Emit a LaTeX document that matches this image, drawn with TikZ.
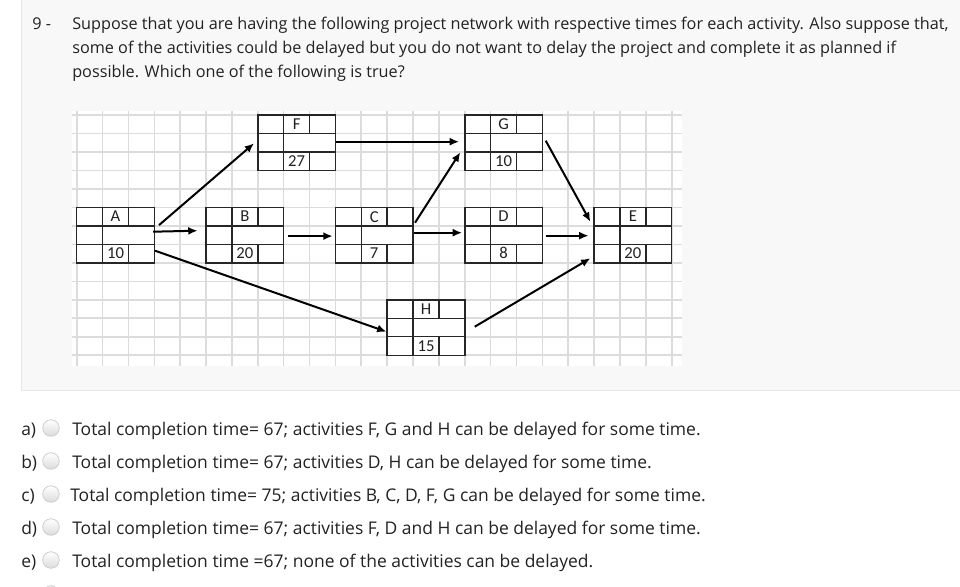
\documentclass[tikz,border=0pt]{standalone}
\usepackage{fontspec}
\setmainfont{Open Sans}
\newfontfamily\cellfont{Carlito}
\usetikzlibrary{arrows.meta}
\definecolor{panelbg}{HTML}{F8F8F8}
\definecolor{panelrule}{HTML}{E6E6E6}
\definecolor{gridline}{HTML}{DCDCDC}
\definecolor{inkdark}{HTML}{222222}
\begin{document}
\begin{tikzpicture}[x=0.75pt, y=-0.75pt,
  every node/.style={inner sep=0pt, text=inkdark},
  qtext/.style={anchor=base west, font=\fontsize{12.18}{18}\selectfont},
  opttext/.style={anchor=base west, font=\fontsize{13.1}{18}\selectfont},
  actbox/.style={draw=black!85, line width=1.1pt, fill=white, minimum width=58.2pt, minimum height=41.6pt,
    align=center, font=\cellfont\fontsize{12.5}{13.86}\selectfont,
    path picture={
      \draw[black!85, line width=1.1pt]
        ([yshift=-13.86pt]path picture bounding box.north west) -- ++(60pt,0)
        ([yshift=13.86pt]path picture bounding box.south west) -- ++(60pt,0)
        ([xshift=19.4pt]path picture bounding box.north west) -- ++(0,-42pt)
        ([xshift=-19.4pt]path picture bounding box.north east) -- ++(0,-13.86pt)
        ([xshift=-19.4pt]path picture bounding box.south east) -- ++(0,13.86pt);}},
  link/.style={-{Latex[length=7pt,width=6pt]}, line width=1.5pt},
  radio/.style={circle, draw=gray!40, line width=0.6pt, minimum size=12.4pt, top color=white, bottom color=gray!28}
]
\useasboundingbox (0,0) rectangle (960,586);
\fill[white] (0,0) rectangle (960,586);

% question panel
\fill[panelbg] (21,0) rectangle (960,390.5);
\draw[panelrule, line width=0.75pt] (21,0) -- (21,390.5) -- (960,390.5);

\node[qtext] (qnum) at (32,29) {9 -};
\node[qtext] (q1) at (72,29) {Suppose that you are having the following project network with respective times for each activity. Also suppose that,};
\node[qtext] (q2) at (72,53) {some of the activities could be delayed but you do not want to delay the project and complete it as planned if};
\node[qtext] (q3) at (72,77) {possible. Which one of the following is true?};

% sheet grid
\fill[white] (72,110.7) rectangle (681.7,366);
\foreach \i in {0,...,23}
  \draw[gridline, line width=1.2pt] ({76.7+25.87*\i},110.7) -- ({76.7+25.87*\i},366);
\foreach \j in {0,...,13}
  \draw[gridline, line width=1.2pt] (72,{115+18.48*\j}) -- (681.7,{115+18.48*\j});

% activities
\node[actbox] (A) at (115.5,235.1) {A\\\mbox{}\\10};
\node[actbox] (B) at (244.9,235.1) {B\\\mbox{}\\20};
\node[actbox] (F) at (296.6,142.7) {F\\\mbox{}\\27};
\node[actbox] (C) at (374.2,235.1) {C\\\mbox{}\\7};
\node[actbox] (G) at (503.6,142.7) {G\\\mbox{}\\10};
\node[actbox] (D) at (503.6,235.1) {D\\\mbox{}\\8};
\node[actbox] (E) at (632.9,235.1) {E\\\mbox{}\\20};
\node[actbox] (H) at (426.0,327.5) {H\\\mbox{}\\15};

\draw[link] ([shift={(4,-10)}]A.east) -- ([shift={(-3,0.6)}]F.west);
\draw[link] ([shift={(-2,-3.4)}]A.east) -- ([shift={(-7.8,-4.4)}]B.west);
\draw[link] ([shift={(0,15.6)}]A.east) -- ([shift={(0,4.2)}]H.west);
\draw[link] ([shift={(4,1)}]B.east) -- ([shift={(-2,1)}]C.west);
\draw[link] ([shift={(0,-1)}]F.east) -- ([shift={(-5,-1)}]G.west);
\draw[link] ([shift={(1.3,-12.4)}]C.east) -- ([shift={(-3.8,9.6)}]G.west);
\draw[link] ([shift={(0,-2.4)}]C.east) -- ([shift={(-2,-2.4)}]D.west);
\draw[link] ([shift={(2.6,-2)}]G.east) -- ([shift={(-3,-13.4)}]E.west);
\draw[link] ([shift={(3.3,0.6)}]D.east) -- ([shift={(-4.8,0.6)}]E.west);
\draw[link] ([shift={(9.2,-0.8)}]H.east) -- ([shift={(-3,23.2)}]E.west);

% answers
\foreach \yb/\lt/\xt/\txt in {
  435/a/72/{Total completion time= 67; activities F, G and H can be delayed for some time.},
  468/b/72/{Total completion time= 67; activities D, H can be delayed for some time.},
  501/c/70/{Total completion time= 75; activities B, C, D, F, G can be delayed for some time.},
  534/d/72/{Total completion time= 67; activities F, D and H can be delayed for some time.},
  567/e/72/{Total completion time =67; none of the activities can be delayed.}}{
  \node[opttext] (opt-\lt) at (21,\yb) {\lt)};
  \node[radio] (radio-\lt) at (51,\yb-7) {};
  \node[opttext] (ans-\lt) at (\xt,\yb) {\txt};
}
\node[radio] (radio-f) at (51,594) {};
\end{tikzpicture}
\end{document}
